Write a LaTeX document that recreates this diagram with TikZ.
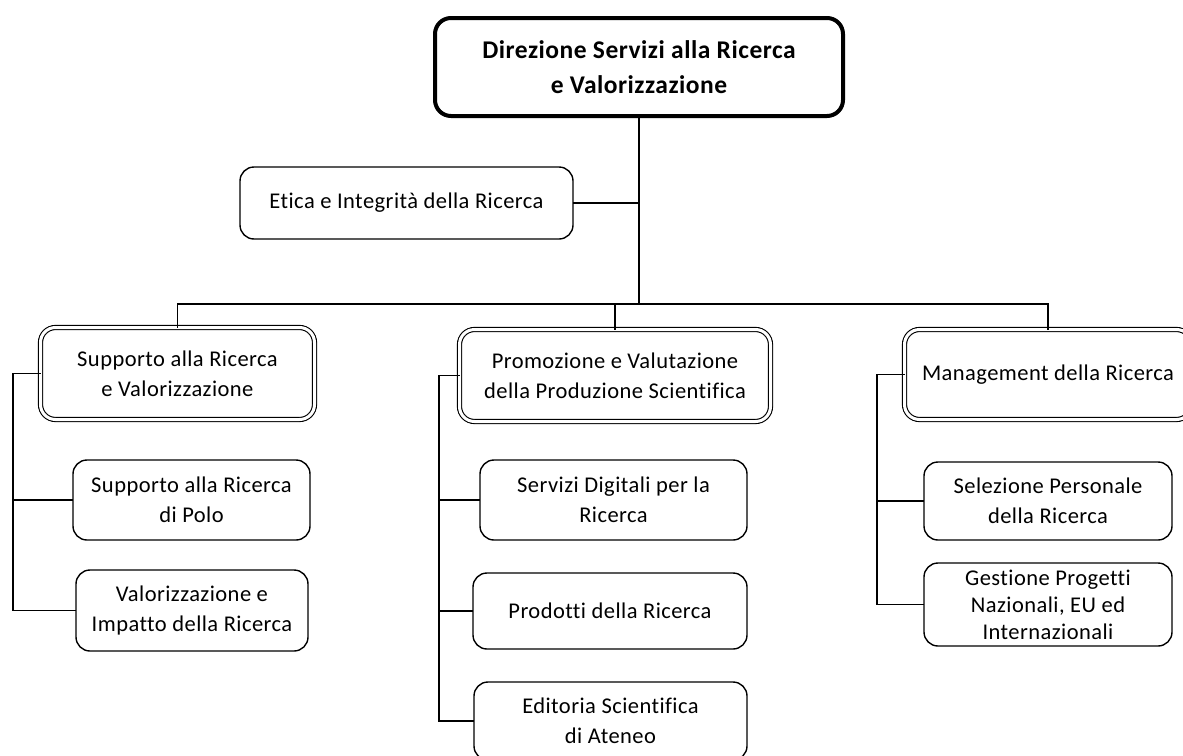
\documentclass[tikz,border=0pt]{standalone}
\usepackage{fontspec}
\setmainfont{Carlito}[RawFeature=-liga, LetterSpace=2]
\begin{document}
\begin{tikzpicture}[x=1pt,y=-1pt,
  every node/.style={inner sep=0pt, outer sep=0pt},
  conn/.style={draw=black, line width=1.4pt},
  unit/.style={draw=black, line width=1.4pt, rounded corners=14pt, fill=white,
     align=center, font=\fontsize{22.5}{30}\selectfont},
  headunit/.style={draw=black, line width=1.1pt, double=white, double distance=3pt,
     rounded corners=15pt, fill=white, align=center, font=\fontsize{22.5}{30}\selectfont},
  topunit/.style={draw=black, line width=4pt, rounded corners=16pt, fill=white,
     align=center, font=\bfseries\fontsize{25.5}{35}\selectfont}
]
\clip (0,0) rectangle (1183,755);
\fill[white] (0,0) rectangle (1183,755);

% nodes
\node[topunit, minimum width=408pt, minimum height=98pt] (top) at (639,67)
  {Direzione Servizi alla Ricerca\\e Valorizzazione};
\node[unit, minimum width=333pt, minimum height=72pt] (etica) at (406.5,203)
  {Etica e Integrità della Ricerca};

\node[headunit, minimum width=274pt, minimum height=92pt] (L1) at (177.5,373.5)
  {Supporto alla Ricerca\\e Valorizzazione};
\node[unit, minimum width=237pt, minimum height=80pt] (polo) at (191.5,500)
  {Supporto alla Ricerca\\di Polo};
\node[unit, minimum width=232pt, minimum height=81pt] (valo) at (192,610.5)
  {Valorizzazione e\\Impatto della Ricerca};

\node[headunit, minimum width=311pt, minimum height=92pt] (M1) at (615,375.5)
  {Promozione e Valutazione\\della Produzione Scientifica};
\node[unit, minimum width=267pt, minimum height=80pt] (digi) at (613.5,500)
  {Servizi Digitali per la\\Ricerca};
\node[unit, minimum width=274pt, minimum height=76pt] (prod) at (610,611)
  {Prodotti della Ricerca};
\node[unit, minimum width=273pt, minimum height=78pt] (edit) at (610.5,721)
  {Editoria Scientifica\\di Ateneo};

\node[headunit, minimum width=287pt, minimum height=90pt] (R1) at (1048,374.5)
  {Management della Ricerca};
\node[unit, minimum width=248pt, minimum height=78pt] (sele) at (1048,501)
  {Selezione Personale\\della Ricerca};
\node[unit, minimum width=248pt, minimum height=83pt, font=\fontsize{22.5}{27}\selectfont] (gest) at (1048,604.5)
  {Gestione Progetti\\Nazionali, EU ed\\Internazionali};

% connectors
\coordinate (bus) at (639,304);
\draw[conn] (top.south) -- (bus);
\draw[conn] (top.south) |- (etica.east);
\draw[conn] (L1.north) |- (bus);
\draw[conn] (M1.north) |- (bus);
\draw[conn] (R1.north) |- (bus);

\coordinate (lb) at (13,373.5);
\draw[conn] (L1.west) -- (lb) |- (valo.west);
\draw[conn] (lb) |- (polo.west);

\coordinate (mb) at (439,375.5);
\draw[conn] (M1.west) -- (mb) |- (edit.west);
\draw[conn] (mb) |- (digi.west);
\draw[conn] (mb) |- (prod.west);

\coordinate (rb) at (877,374.5);
\draw[conn] (R1.west) -- (rb) |- (gest.west);
\draw[conn] (rb) |- (sele.west);
\end{tikzpicture}
\end{document}
